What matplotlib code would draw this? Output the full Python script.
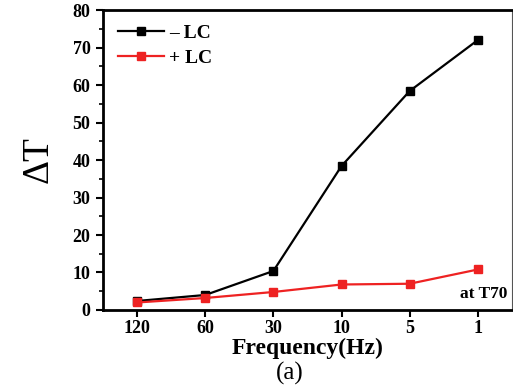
import matplotlib
matplotlib.use("Agg")
import matplotlib.pyplot as plt
from matplotlib.ticker import MultipleLocator

freq_labels = ["120", "60", "30", "10", "5", "1"]
minus_lc = [2.4, 4.0, 10.4, 38.4, 58.4, 72.0]
plus_lc = [2.0, 3.2, 4.8, 6.8, 7.0, 10.8]

plt.rcParams['font.family'] = ['Liberation Serif', 'DejaVu Serif']

fig = plt.figure(figsize=(5.13, 3.87), dpi=100)
ax = fig.add_axes([0.2008, 0.199, 0.797, 0.775])
x = list(range(len(freq_labels)))
ax.plot(x, minus_lc, color='black', marker='s', markersize=5.5, lw=1.6, label='– LC')
ax.plot(x, plus_lc, color='#ee2222', marker='s', markersize=5.5, lw=1.6, label='+ LC')

ax.set_xlim(-0.5, 5.5)
ax.set_ylim(0, 80)
ax.set_xticks(x)
ax.set_xticklabels(freq_labels, fontsize=13, fontweight='bold')
ax.yaxis.set_major_locator(MultipleLocator(10))
ax.yaxis.set_minor_locator(MultipleLocator(5))
for lab in ax.get_yticklabels():
    lab.set_fontweight('bold')
    lab.set_fontsize(13)
ax.tick_params(axis='y', which='major', direction='out', length=5, width=1.5, pad=4)
ax.tick_params(axis='y', which='minor', direction='out', length=3, width=1.2)
ax.tick_params(axis='x', which='major', direction='out', length=5, width=1.5, pad=2)
ax.spines['left'].set_linewidth(2.0)
ax.spines['bottom'].set_linewidth(2.0)
ax.spines['top'].set_linewidth(2.0)
ax.spines['right'].set_linewidth(0.8)
ax.spines['right'].set_color('#555555')

ax.set_ylabel('ΔT', fontsize=27, labelpad=12)
ax.set_xlabel('Frequency(Hz)', fontsize=17, fontweight='bold', labelpad=1)
fig.text(0.565, 0.005, '(a)', fontsize=18, ha='center', va='bottom')
ax.text(0.99, 0.025, 'at T70', transform=ax.transAxes, ha='right', va='bottom',
        fontsize=12.5, fontweight='bold')

leg = ax.legend(loc='upper left', frameon=False, prop={'weight': 'bold', 'size': 14},
                handlelength=2.4, handletextpad=0.25, borderaxespad=0.35, labelspacing=0.35)

fig.savefig('out.png', dpi=100)
